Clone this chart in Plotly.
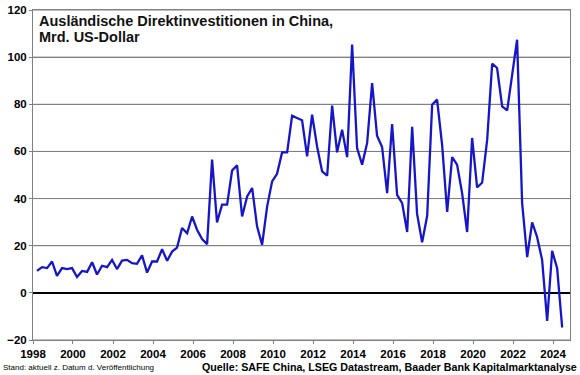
import pandas as pd
import plotly.graph_objects as go

# Quarterly FDI into China (bn USD), 1998Q1 .. 2024Q2
start_quarter = "1998Q1"
end_quarter = "2024Q2"
fdi_values = [
    9.3, 10.9, 10.5, 13.3,      # 1998
    7.2, 10.5, 10.1, 10.5,      # 1999
    6.7, 9.3, 8.9, 13.0,        # 2000
    7.8, 11.5, 10.9, 14.0,      # 2001
    10.1, 13.7, 14.0, 12.6,     # 2002
    12.3, 15.9, 8.6, 13.3,      # 2003
    13.3, 18.5, 13.6, 17.5,     # 2004
    19.2, 27.5, 25.3, 32.4,     # 2005
    26.8, 22.8, 20.7, 56.5,     # 2006
    29.9, 37.4, 37.4, 51.9,     # 2007
    54.1, 32.4, 40.9, 44.5,     # 2008
    28.2, 20.4, 36.6, 47.3,     # 2009
    50.5, 59.6, 59.6, 75.2,     # 2010
    74.2, 73.2, 57.9, 75.6,     # 2011
    62.1, 51.5, 49.7, 79.4,     # 2012
    59.6, 69.2, 57.6, 105.3,    # 2013
    61.4, 54.4, 63.6, 89.0,     # 2014
    66.7, 61.9, 42.3, 71.6,     # 2015
    41.6, 38.1, 25.8, 70.4,     # 2016
    33.5, 21.4, 32.7, 79.8,     # 2017
    82.0, 62.8, 34.3, 57.6,     # 2018
    54.4, 42.3, 25.8, 65.7,     # 2019
    44.7, 46.8, 65.0, 97.2,     # 2020
    95.4, 79.1, 77.4, 93.3,     # 2021
    107.4, 38.1, 15.2, 29.9,    # 2022
    23.7, 14.0, -11.9, 17.8,    # 2023
    10.5, -14.7,                # 2024
]
y_ticks = [-20, 0, 20, 40, 60, 80, 100, 120]
x_tick_years = list(range(1998, 2025, 2))
x_range = ["1998-01-01", "2024-11-05"]

title_line1 = "Ausländische Direktinvestitionen in China,"
title_line2 = "Mrd. US-Dollar"
note_left = "Stand: aktuell z. Datum d. Veröffentlichung"
note_right = "Quelle: SAFE China, LSEG Datastream, Baader Bank Kapitalmarktanalyse"

periods = pd.period_range(start_quarter, end_quarter, freq="Q")
dates = [p.end_time.normalize().replace(day=15) for p in periods]

arial = "Liberation Sans, Arial, sans-serif"
grid = "#808080"

# gridlines as a line trace across the x range at every y tick (except zero)
gx, gy = [], []
for v in y_ticks:
    if v == 0:
        continue
    gx += [x_range[0], x_range[1], None]
    gy += [v, v, None]

fig = go.Figure()
fig.add_trace(go.Scatter(
    x=gx, y=gy, mode="lines", line=dict(color=grid, width=1),
    hoverinfo="skip", showlegend=False, cliponaxis=False,
))
fig.add_trace(go.Scatter(
    x=dates, y=fdi_values, mode="lines",
    line=dict(color="#1616C8", width=2.3),
    hoverinfo="skip", showlegend=False,
))

L, R, T, B = 33, 570, 10.4, 340.0
W, H = R - L, B - T


def px(x):
    return (x - L) / W


def py(y):
    return (B - y) / H


tickfont = dict(family=arial, size=11.5, color="black", weight="bold")

fig.update_layout(
    template="none",
    width=580, height=375,
    margin=dict(l=L, r=580 - R, t=T, b=375 - B, autoexpand=False),
    paper_bgcolor="white", plot_bgcolor="white",
    hovermode=False,
    xaxis=dict(
        type="date", automargin=False,
        range=x_range,
        tickvals=[f"{y}-01-01" for y in x_tick_years],
        ticktext=[str(y) for y in x_tick_years],
        showgrid=False, showline=True, mirror=True, linecolor=grid, linewidth=1,
        ticks="outside", ticklen=3, tickcolor=grid, tickwidth=1,
        tickfont=tickfont,
        zeroline=False,
    ),
    yaxis=dict(
        automargin=False,
        range=[-20, 120], tickmode="array", tickvals=y_ticks,
        showgrid=True, gridcolor=grid, gridwidth=1,
        showline=True, mirror=True, linecolor=grid, linewidth=1,
        ticks="outside", ticklen=3, tickcolor=grid, tickwidth=1,
        tickfont=tickfont,
        zeroline=True, zerolinecolor="black", zerolinewidth=2.2,
    ),
    annotations=[
        dict(text=title_line1, xref="paper", yref="paper", x=px(37), y=py(21),
             xanchor="left", yanchor="middle", showarrow=False,
             font=dict(family=arial, size=14.5, color="#111111", weight="bold")),
        dict(text=title_line2, xref="paper", yref="paper", x=px(37), y=py(37.5),
             xanchor="left", yanchor="middle", showarrow=False,
             font=dict(family=arial, size=14.5, color="#111111", weight="bold")),
        dict(text=note_left, xref="paper", yref="paper", x=px(1), y=py(367),
             xanchor="left", yanchor="middle", showarrow=False,
             font=dict(family=arial, size=8, color="black")),
        dict(text=note_right, xref="paper", yref="paper", x=px(579), y=py(366.5),
             xanchor="right", yanchor="middle", showarrow=False,
             font=dict(family=arial, size=10.7, color="black", weight="bold")),
    ],
)

fig.write_html("out.html", config={"displayModeBar": False},
               post_script="document.body.style.margin='0';")
